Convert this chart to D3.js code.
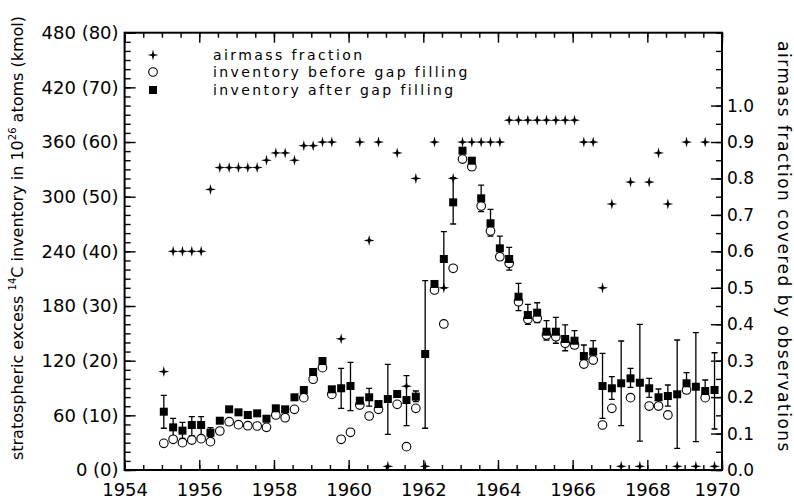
<!DOCTYPE html>
<html>
<head>
<meta charset="utf-8">
<script src="https://cdn.jsdelivr.net/npm/d3@7"></script>
<style>
  body { margin: 0; background: #fff; }
  svg { display: block; }
  text { font-family: "DejaVu Sans", sans-serif; fill: #000; }
</style>
</head>
<body>
<svg id="chart" width="794" height="499"></svg>
<script>
'use strict';

// quarterly sample times (decimal years)
var times = [1955.05, 1955.30, 1955.55, 1955.80, 1956.05, 1956.30, 1956.55, 1956.80,
             1957.05, 1957.30, 1957.55, 1957.80, 1958.05, 1958.30, 1958.55, 1958.80,
             1959.05, 1959.30, 1959.55, 1959.80, 1960.05, 1960.30, 1960.55, 1960.80,
             1961.05, 1961.30, 1961.55, 1961.80, 1962.05, 1962.30, 1962.55, 1962.80,
             1963.05, 1963.30, 1963.55, 1963.80, 1964.05, 1964.30, 1964.55, 1964.80,
             1965.05, 1965.30, 1965.55, 1965.80, 1966.05, 1966.30, 1966.55, 1966.80,
             1967.05, 1967.30, 1967.55, 1967.80, 1968.05, 1968.30, 1968.55, 1968.80,
             1969.05, 1969.30, 1969.55, 1969.80];

// airmass fraction covered by observations (right axis)
var airmass = [0.27, 0.60, 0.60, 0.60, 0.60, 0.77, 0.83, 0.83,
               0.83, 0.83, 0.83, 0.85, 0.87, 0.87, 0.85, 0.89,
               0.89, 0.90, 0.90, 0.36, null, 0.90, 0.63, 0.90,
               0.01, 0.87, 0.23, 0.80, 0.01, 0.90, 0.50, 0.80,
               0.90, 0.90, 0.90, 0.90, 0.90, 0.96, 0.96, 0.96,
               0.96, 0.96, 0.96, 0.96, 0.96, 0.90, 0.90, 0.50,
               0.73, 0.01, 0.79, 0.01, 0.79, 0.87, 0.73, 0.01,
               0.90, 0.01, 0.90, 0.01];

// inventory before gap filling (10^26 atoms)
var before = [29.3, 33.7, 30.0, 32.9, 34.4, 31.1, 42.8, 53.0,
              49.8, 48.6, 48.3, 46.8, 60.4, 57.4, 66.6, 79.4,
              99.6, 112.3, 83.0, 33.7, 41.4, 71.3, 59.3, 66.6,
              null, 72.1, 25.6, 67.7, null, 197.6, 160.3, 221.4,
              341.3, 332.9, 289.8, 262.3, 234.1, 226.9, 184.7, 165.4,
              166.5, 148.2, 146.3, 139.1, 137.2, 116.3, 120.7, 49.4,
              67.7, null, 79.4, null, 70.2, 70.2, 60.4, null,
              87.8, null, 79.4, null];

// inventory after gap filling (10^26 atoms)
var after = [64.0, 46.8, 43.2, 49.4, 49.4, 41.0, 54.1, 66.6,
             63.3, 60.4, 62.2, 56.3, 67.7, 66.6, 79.8, 87.8,
             107.6, 119.6, 88.6, 89.7, 92.2, 76.1, 79.8, 72.4,
             77.9, 83.4, 76.8, 80.5, 127.3, 204.2, 231.6, 293.8,
             350.5, 339.5, 298.2, 270.8, 243.3, 231.6, 190.2, 170.1,
             172.7, 151.8, 151.8, 143.8, 141.9, 125.1, 129.9, 92.2,
             89.7, 95.2, 100.6, 95.8, 89.7, 79.8, 81.2, 83.1,
             95.2, 91.4, 86.7, 87.8];

// error bars on the gap-filled inventory
var errLow = [45.8, 36.6, 34.8, 37.3, 37.3, 36.6, null, null,
              null, null, null, null, null, null, null, null,
              null, null, null, 67.7, 65.1, null, 70.2, null,
              39.2, null, 48.6, 75.0, 45.8, null, 200.0, 270.0,
              null, null, 283.5, 256.8, 230.5, 219.5, 174.9, 159.9,
              161.7, 142.7, 139.1, 130.9, 133.5, 114.2, 120.7, 56.7,
              77.6, 48.6, 90.8, 31.8, 79.8, 71.0, 70.2, 23.8,
              84.2, 31.1, 78.0, 45.0];
var errHigh = [82.0, 56.7, 52.3, 58.5, 58.5, 46.5, null, null,
               null, null, null, null, null, null, null, null,
               null, null, null, 111.6, 118.2, null, 89.7, null,
               116.0, null, 103.5, 86.7, 207.8, null, 261.6, 320.8,
               null, null, 312.8, 286.1, 256.8, 244.4, 204.9, 181.9,
               183.6, 163.9, 167.6, 159.2, 152.9, 137.2, 141.9, 128.1,
               102.4, 141.6, 111.6, 159.9, 100.6, 88.9, 93.3, 142.7,
               106.8, 150.7, 98.8, 128.7];

var yearTicks = [1954, 1956, 1958, 1960, 1962, 1964, 1966, 1968, 1970];
var invTicks = [0, 60, 120, 180, 240, 300, 360, 420, 480];
var fracTicks = [0, 0.1, 0.2, 0.3, 0.4, 0.5, 0.6, 0.7, 0.8, 0.9, 1.0];
var legendLabels = ['airmass fraction', 'inventory before gap filling', 'inventory after gap filling'];

(function() {
  var svg = d3.select('#chart');
  var x0 = 124.6, x1 = 722, y0 = 32.7, y1 = 470;

  var x = d3.scaleLinear().domain([1954, 1970]).range([x0, x1]);
  var y = d3.scaleLinear().domain([0, 480]).range([y1, y0]);
  var yR = d3.scaleLinear().domain([0, 1.2]).range([y1, y0]);

  var minorYears = d3.range(1954, 1970.01, 0.5);
  var minorInv = d3.range(0, 480.01, 10);
  var minorFrac = d3.range(0, 1.2001, 0.05);

  function styleAxis(g) {
    g.select('.domain').remove();
    g.selectAll('line').attr('stroke', '#000').attr('stroke-width', 1.4);
    g.selectAll('text').attr('font-size', 18).attr('font-family', '"DejaVu Sans", sans-serif');
  }

  // bottom
  svg.append('g').attr('transform', 'translate(0,' + y1 + ')')
    .call(d3.axisBottom(x).tickValues(minorYears).tickSize(-5).tickFormat(''))
    .call(styleAxis);
  svg.append('g').attr('transform', 'translate(0,' + y1 + ')')
    .call(d3.axisBottom(x).tickValues(yearTicks).tickSize(-10).tickPadding(13).tickFormat(d3.format('d')))
    .call(styleAxis)
    .selectAll('text')
    .attr('dx', function(d) { return d === 1970 ? -5 : 0; });
  // top
  svg.append('g').attr('transform', 'translate(0,' + y0 + ')')
    .call(d3.axisTop(x).tickValues(minorYears).tickSize(-5).tickFormat(''))
    .call(styleAxis);
  svg.append('g').attr('transform', 'translate(0,' + y0 + ')')
    .call(d3.axisTop(x).tickValues(yearTicks).tickSize(-10).tickFormat(''))
    .call(styleAxis);
  // left
  svg.append('g').attr('transform', 'translate(' + x0 + ',0)')
    .call(d3.axisLeft(y).tickValues(minorInv).tickSize(-6).tickFormat(''))
    .call(styleAxis);
  svg.append('g').attr('transform', 'translate(' + x0 + ',0)')
    .call(d3.axisLeft(y).tickValues(invTicks).tickSize(-11).tickPadding(6)
      .tickFormat(function(d) { return d + ' (' + (d / 6) + ')'; }))
    .call(styleAxis);
  // right
  svg.append('g').attr('transform', 'translate(' + x1 + ',0)')
    .call(d3.axisRight(yR).tickValues(minorFrac).tickSize(-6).tickFormat(''))
    .call(styleAxis);
  svg.append('g').attr('transform', 'translate(' + x1 + ',0)')
    .call(d3.axisRight(yR).tickValues(fracTicks).tickSize(-11).tickPadding(5).tickFormat(d3.format('.1f')))
    .call(styleAxis)
    .selectAll('text').attr('font-size', 17);

  // frame
  svg.append('rect')
    .attr('x', x0).attr('y', y0)
    .attr('width', x1 - x0).attr('height', y1 - y0)
    .attr('fill', 'none').attr('stroke', '#000').attr('stroke-width', 2);

  // axis titles
  var lt = svg.append('text')
    .attr('transform', 'translate(23,238) rotate(-90)')
    .attr('text-anchor', 'middle')
    .attr('font-size', 16);
  lt.append('tspan').text('stratospheric excess ');
  lt.append('tspan').attr('font-size', 10).attr('dy', -7).text('14');
  lt.append('tspan').attr('dy', 7).text('C inventory in 10');
  lt.append('tspan').attr('font-size', 10).attr('dy', -7).text('26');
  lt.append('tspan').attr('dy', 7).text(' atoms (kmol)');

  svg.append('text')
    .attr('transform', 'translate(778,247) rotate(90)')
    .attr('text-anchor', 'middle')
    .attr('font-size', 17)
    .attr('letter-spacing', 1.5)
    .text('airmass fraction covered by observations');

  // markers
  var star = 'M0,-5.5L1.1,-1.1L5.5,0L1.1,1.1L0,5.5L-1.1,1.1L-5.5,0L-1.1,-1.1Z';
  var idx = d3.range(times.length);

  var err = svg.append('g').attr('stroke', '#000').attr('stroke-width', 1.3).attr('fill', 'none');
  idx.filter(function(i) { return errLow[i] != null; }).forEach(function(i) {
    var cx = x(times[i]), ya = y(errLow[i]), yb = y(errHigh[i]);
    err.append('path')
      .attr('d', 'M' + cx + ',' + ya + 'V' + yb +
                 'M' + (cx - 3) + ',' + ya + 'H' + (cx + 3) +
                 'M' + (cx - 3) + ',' + yb + 'H' + (cx + 3));
  });

  svg.append('g').selectAll('circle')
    .data(idx.filter(function(i) { return before[i] != null; }))
    .enter().append('circle')
    .attr('cx', function(i) { return x(times[i]); })
    .attr('cy', function(i) { return y(before[i]); })
    .attr('r', 4.3)
    .attr('fill', '#fff').attr('stroke', '#000').attr('stroke-width', 1.1);

  svg.append('g').selectAll('rect')
    .data(idx)
    .enter().append('rect')
    .attr('x', function(i) { return x(times[i]) - 4; })
    .attr('y', function(i) { return y(after[i]) - 4; })
    .attr('width', 8).attr('height', 8)
    .attr('fill', '#000');

  svg.append('g').selectAll('path')
    .data(idx.filter(function(i) { return airmass[i] != null; }))
    .enter().append('path')
    .attr('d', star)
    .attr('transform', function(i) { return 'translate(' + x(times[i]) + ',' + yR(airmass[i]) + ')'; })
    .attr('fill', '#000');

  // legend
  var legendY = [55, 72, 90];
  var leg = svg.append('g');
  leg.append('path').attr('d', star).attr('transform', 'translate(153,' + legendY[0] + ')').attr('fill', '#000');
  leg.append('circle').attr('cx', 153).attr('cy', legendY[1]).attr('r', 4.3)
    .attr('fill', '#fff').attr('stroke', '#000').attr('stroke-width', 1.1);
  leg.append('rect').attr('x', 149).attr('y', legendY[2] - 4).attr('width', 8).attr('height', 8).attr('fill', '#000');
  leg.selectAll('text').data(legendLabels).enter().append('text')
    .attr('x', 213).attr('y', function(d, i) { return legendY[i]; })
    .attr('dy', '0.35em')
    .attr('font-size', 14)
    .attr('letter-spacing', 2.4)
    .text(function(d) { return d; });
})();
</script>
</body>
</html>
